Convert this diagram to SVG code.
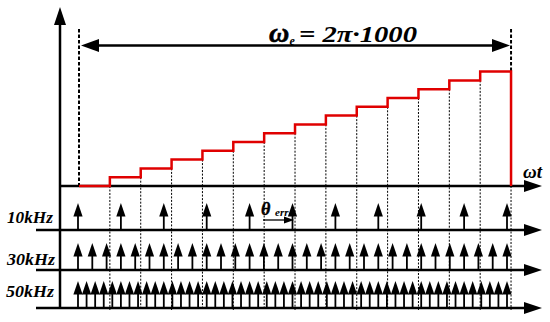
<svg xmlns="http://www.w3.org/2000/svg" xmlns:xlink="http://www.w3.org/1999/xlink" width="550" height="322" viewBox="0 0 550 322">
<style>
.ax{stroke:#000;stroke-width:2.5;fill:none}
.ah{fill:#000;stroke:none}
.dot{stroke:#000;stroke-width:1;stroke-dasharray:2,1.5;fill:none}
.dash{stroke:#000;stroke-width:2;stroke-dasharray:3.5,2;fill:none}
.red{stroke:#e00000;stroke-width:2.5;fill:none}
.lbl{font-family:"Liberation Serif","Times New Roman",serif;font-weight:bold;font-style:italic;fill:#000}
.sh{stroke:#000;stroke-width:1.8}
</style>
<defs>
<g id="up">
<line class="sh" x1="0" y1="-14" x2="0" y2="0"/>
<polygon class="ah" points="0,-27 -4.6,-13.5 4.6,-13.5"/>
</g>
</defs>
<rect width="550" height="322" fill="#fff"/>

<g id="connectors">
<g id="step-lines">
<line class="dot" x1="109.86" y1="186" x2="109.86" y2="310"/>
<line class="dot" x1="140.72" y1="177.2" x2="140.72" y2="310"/>
<line class="dot" x1="171.58" y1="168.4" x2="171.58" y2="310"/>
<line class="dot" x1="202.44" y1="159.6" x2="202.44" y2="310"/>
<line class="dot" x1="233.3" y1="150.8" x2="233.3" y2="310"/>
<line class="dot" x1="264.16" y1="142" x2="264.16" y2="310"/>
<line class="dot" x1="295.02" y1="133.2" x2="295.02" y2="310"/>
<line class="dot" x1="325.88" y1="124.4" x2="325.88" y2="310"/>
<line class="dot" x1="356.74" y1="115.6" x2="356.74" y2="310"/>
<line class="dot" x1="387.6" y1="106.8" x2="387.6" y2="310"/>
<line class="dot" x1="418.46" y1="98" x2="418.46" y2="310"/>
<line class="dot" x1="449.32" y1="89.2" x2="449.32" y2="310"/>
<line class="dot" x1="480.18" y1="80.4" x2="480.18" y2="310"/>
<line class="dot" x1="511.04" y1="186" x2="511.04" y2="310"/>
<line class="dash" x1="79" y1="29" x2="79" y2="186"/>
<line class="dash" x1="511.04" y1="29" x2="511.04" y2="72"/>
</g>

<g id="y-axis">
<line class="ax" x1="60" y1="308" x2="60" y2="22"/>
<polygon class="ah" points="60,7 54,25 66,25"/>
</g>
<g id="x-axis">
<line class="ax" x1="60" y1="186" x2="527" y2="186"/>
<polygon class="ah" points="542,186 524,180 524,192"/>
</g>
<g id="row-lines">
<line class="ax" x1="36" y1="230" x2="527" y2="230"/>
<polygon class="ah" points="542,230 524,224 524,236"/>
<line class="ax" x1="36" y1="270" x2="527" y2="270"/>
<polygon class="ah" points="542,270 524,264 524,276"/>
<line class="ax" x1="36" y1="308" x2="527" y2="308"/>
<polygon class="ah" points="542,308 524,302 524,314"/>
</g>

<g id="period-arrow">
<line class="ax" x1="95" y1="45.5" x2="496" y2="45.5"/>
<polygon class="ah" points="81,45.5 99,39 99,52"/>
<polygon class="ah" points="510,45.5 492,39 492,52"/>
</g>

<g id="theta-arrow">
<line stroke="#000" stroke-width="1.3" x1="263" y1="220" x2="286" y2="220"/>
<polygon class="ah" points="294,220 284,216.5 284,223.5"/>
</g>
</g>

<g id="staircase">
<path class="red" d="M79,186 H109.86 V177.2 H140.72 V168.4 H171.58 V159.6 H202.44 V150.8 H233.3 V142 H264.16 V133.2 H295.02 V124.4 H325.88 V115.6 H356.74 V106.8 H387.6 V98 H418.46 V89.2 H449.32 V80.4 H480.18 V71.6 H511.04 V186"/>
</g>

<g id="row-10kHz">
<use xlink:href="#up" x="78" y="230"/>
<use xlink:href="#up" x="120.9" y="230"/>
<use xlink:href="#up" x="163.8" y="230"/>
<use xlink:href="#up" x="206.7" y="230"/>
<use xlink:href="#up" x="249.6" y="230"/>
<use xlink:href="#up" x="292.5" y="230"/>
<use xlink:href="#up" x="335.4" y="230"/>
<use xlink:href="#up" x="378.3" y="230"/>
<use xlink:href="#up" x="421.2" y="230"/>
<use xlink:href="#up" x="464.1" y="230"/>
<use xlink:href="#up" x="507" y="230"/>
</g>

<g id="row-30kHz">
<use xlink:href="#up" x="78" y="270"/>
<use xlink:href="#up" x="92.3" y="270"/>
<use xlink:href="#up" x="106.6" y="270"/>
<use xlink:href="#up" x="120.9" y="270"/>
<use xlink:href="#up" x="135.2" y="270"/>
<use xlink:href="#up" x="149.5" y="270"/>
<use xlink:href="#up" x="163.8" y="270"/>
<use xlink:href="#up" x="178.1" y="270"/>
<use xlink:href="#up" x="192.4" y="270"/>
<use xlink:href="#up" x="206.7" y="270"/>
<use xlink:href="#up" x="221" y="270"/>
<use xlink:href="#up" x="235.3" y="270"/>
<use xlink:href="#up" x="249.6" y="270"/>
<use xlink:href="#up" x="263.9" y="270"/>
<use xlink:href="#up" x="278.2" y="270"/>
<use xlink:href="#up" x="292.5" y="270"/>
<use xlink:href="#up" x="306.8" y="270"/>
<use xlink:href="#up" x="321.1" y="270"/>
<use xlink:href="#up" x="335.4" y="270"/>
<use xlink:href="#up" x="349.7" y="270"/>
<use xlink:href="#up" x="364" y="270"/>
<use xlink:href="#up" x="378.3" y="270"/>
<use xlink:href="#up" x="392.6" y="270"/>
<use xlink:href="#up" x="406.9" y="270"/>
<use xlink:href="#up" x="421.2" y="270"/>
<use xlink:href="#up" x="435.5" y="270"/>
<use xlink:href="#up" x="449.8" y="270"/>
<use xlink:href="#up" x="464.1" y="270"/>
<use xlink:href="#up" x="478.4" y="270"/>
<use xlink:href="#up" x="492.7" y="270"/>
<use xlink:href="#up" x="507" y="270"/>
</g>

<g id="row-50kHz">
<use xlink:href="#up" x="78" y="308"/>
<use xlink:href="#up" x="86.58" y="308"/>
<use xlink:href="#up" x="95.16" y="308"/>
<use xlink:href="#up" x="103.74" y="308"/>
<use xlink:href="#up" x="112.32" y="308"/>
<use xlink:href="#up" x="120.9" y="308"/>
<use xlink:href="#up" x="129.48" y="308"/>
<use xlink:href="#up" x="138.06" y="308"/>
<use xlink:href="#up" x="146.64" y="308"/>
<use xlink:href="#up" x="155.22" y="308"/>
<use xlink:href="#up" x="163.8" y="308"/>
<use xlink:href="#up" x="172.38" y="308"/>
<use xlink:href="#up" x="180.96" y="308"/>
<use xlink:href="#up" x="189.54" y="308"/>
<use xlink:href="#up" x="198.12" y="308"/>
<use xlink:href="#up" x="206.7" y="308"/>
<use xlink:href="#up" x="215.28" y="308"/>
<use xlink:href="#up" x="223.86" y="308"/>
<use xlink:href="#up" x="232.44" y="308"/>
<use xlink:href="#up" x="241.02" y="308"/>
<use xlink:href="#up" x="249.6" y="308"/>
<use xlink:href="#up" x="258.18" y="308"/>
<use xlink:href="#up" x="266.76" y="308"/>
<use xlink:href="#up" x="275.34" y="308"/>
<use xlink:href="#up" x="283.92" y="308"/>
<use xlink:href="#up" x="292.5" y="308"/>
<use xlink:href="#up" x="301.08" y="308"/>
<use xlink:href="#up" x="309.66" y="308"/>
<use xlink:href="#up" x="318.24" y="308"/>
<use xlink:href="#up" x="326.82" y="308"/>
<use xlink:href="#up" x="335.4" y="308"/>
<use xlink:href="#up" x="343.98" y="308"/>
<use xlink:href="#up" x="352.56" y="308"/>
<use xlink:href="#up" x="361.14" y="308"/>
<use xlink:href="#up" x="369.72" y="308"/>
<use xlink:href="#up" x="378.3" y="308"/>
<use xlink:href="#up" x="386.88" y="308"/>
<use xlink:href="#up" x="395.46" y="308"/>
<use xlink:href="#up" x="404.04" y="308"/>
<use xlink:href="#up" x="412.62" y="308"/>
<use xlink:href="#up" x="421.2" y="308"/>
<use xlink:href="#up" x="429.78" y="308"/>
<use xlink:href="#up" x="438.36" y="308"/>
<use xlink:href="#up" x="446.94" y="308"/>
<use xlink:href="#up" x="455.52" y="308"/>
<use xlink:href="#up" x="464.1" y="308"/>
<use xlink:href="#up" x="472.68" y="308"/>
<use xlink:href="#up" x="481.26" y="308"/>
<use xlink:href="#up" x="489.84" y="308"/>
<use xlink:href="#up" x="498.42" y="308"/>
<use xlink:href="#up" x="507" y="308"/>
</g>

<g id="labels">
<g id="title">
<text class="lbl" x="269" y="42" font-size="28" stroke="#000" stroke-width="0.6">ω</text>
<text class="lbl" x="289.5" y="45" font-size="12">e</text>
<text class="lbl" x="299" y="42" font-size="23" textLength="118" lengthAdjust="spacingAndGlyphs">= 2π·1000</text>
</g>
<text id="omega-t" class="lbl" x="523" y="178" font-size="19" textLength="19" lengthAdjust="spacingAndGlyphs">ωt</text>
<g id="theta-err">
<text class="lbl" x="261" y="215" font-size="18" stroke="#000" stroke-width="0.4">θ</text>
<text class="lbl" x="275" y="216" font-size="11">err</text>
</g>
<text id="lbl-10kHz" class="lbl" x="7" y="223" font-size="16" textLength="46" lengthAdjust="spacingAndGlyphs">10kHz</text>
<text id="lbl-30kHz" class="lbl" x="7" y="265" font-size="16" textLength="48" lengthAdjust="spacingAndGlyphs">30kHz</text>
<text id="lbl-50kHz" class="lbl" x="6" y="297" font-size="16" textLength="48" lengthAdjust="spacingAndGlyphs">50kHz</text>
</g>
</svg>
